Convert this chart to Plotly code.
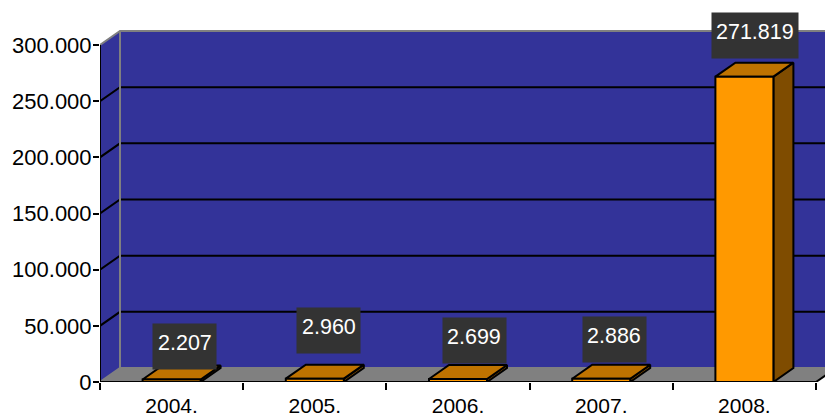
import plotly.graph_objects as go

categories = ["2004.", "2005.", "2006.", "2007.", "2008."]
values = [2207, 2960, 2699, 2886, 271819]
label_texts = ["2.207", "2.960", "2.699", "2.886", "271.819"]
y_ticks = [0, 50000, 100000, 150000, 200000, 250000, 300000]
y_tick_labels = ["0", "50.000", "100.000", "150.000", "200.000", "250.000", "300.000"]

# label box offsets from each bar's front-top centre, px
label_dx = [13, 14, 16, 13, 11]
label_dy = [34, 49, 39, 40, 42]

W, H = 825, 416
L, B = 100, 34
CAT_PX = 143.2
VAL_PX = 337 / 300000
DX = 20 / CAT_PX
DY = 14 / VAL_PX
BAR_HALF = 29 / CAT_PX
N = len(categories)
FONT = "Liberation Sans, Arial, sans-serif"

WALL = "#333399"
FLOOR = "#808080"
EDGE = "#808080"
FRONT = "#FF9900"
TOP = "#BF7300"
SIDE = "#7F4C00"

fig = go.Figure()


def poly(xs, ys, fill=None, line="black", width=2):
    fig.add_trace(go.Scatter(
        x=xs, y=ys, mode="lines", cliponaxis=False, hoverinfo="skip",
        fill="toself" if fill else None, fillcolor=fill,
        line=dict(color=line, width=width, simplify=False),
    ))


ymax = y_ticks[-1]
# back wall, side wall, floor
poly([DX, N + DX, N + DX, DX, DX], [DY, DY, ymax + DY, ymax + DY, DY], fill=WALL, line=WALL, width=0.5)
poly([0, DX, DX, 0, 0], [0, DY, ymax + DY, ymax, 0], fill=WALL, line=WALL, width=0.5)
poly([0, N, N + DX, DX, 0], [0, 0, DY, DY, 0], fill=FLOOR, line=FLOOR, width=0.5)

# gridlines
for v in y_ticks[1:-1]:
    poly([0, DX, N + DX], [v, v + DY, v + DY])

# wall edges
poly([0, DX, N + DX], [ymax, ymax + DY, ymax + DY], line=EDGE)
poly([DX, DX], [DY, ymax + DY], line=EDGE)
poly([0, DX, N + DX], [0, DY, DY], line=EDGE)
poly([N, N + DX], [0, DY])

# bars
for i, v in enumerate(values):
    x0, x1 = i + 0.5 - BAR_HALF, i + 0.5 + BAR_HALF
    poly([x1, x1 + DX, x1 + DX, x1, x1], [0, DY, v + DY, v, 0], fill=SIDE)
    poly([x0, x1, x1 + DX, x0 + DX, x0], [v, v, v + DY, v + DY, v], fill=TOP)
    poly([x0, x1, x1, x0, x0], [0, 0, v, v, 0], fill=FRONT)

# axes
poly([0, 0], [0, ymax])
poly([0, N], [0, 0])

for i, v in enumerate(values):
    # dark box behind the label
    fig.add_annotation(
        x=i + 0.5, y=v, xref="x", yref="y", text=" ", showarrow=False,
        xanchor="center", yanchor="middle", xshift=label_dx[i], yshift=label_dy[i] - 1,
        width=86 if len(label_texts[i]) > 5 else 63, height=45, bgcolor="#333333",
        borderpad=0,
    )
    # value text, sitting a little above the box centre
    fig.add_annotation(
        x=i + 0.5, y=v, xref="x", yref="y", text=label_texts[i], showarrow=False,
        xanchor="center", yanchor="middle", xshift=label_dx[i], yshift=label_dy[i] + 3,
        font=dict(family=FONT, size=21.5, color="white"),
    )

fig.update_layout(
    width=W, height=H, autosize=False, showlegend=False,
    paper_bgcolor="white", plot_bgcolor="white",
    margin=dict(l=L, r=0, t=0, b=B, pad=0, autoexpand=False),
    font=dict(family=FONT, size=21, color="black"),
    xaxis=dict(
        range=[0, (W - L) / CAT_PX], showgrid=False, zeroline=False, showline=False,
        automargin=False,
        tickmode="array", tickvals=[i + 0.5 for i in range(N)], ticktext=categories,
        tickfont=dict(family=FONT, size=21, color="black"),
        ticks="", ticklabelstandoff=9,
        minor=dict(tickmode="array", tickvals=list(range(N + 1)), ticks="outside",
                   ticklen=7, tickwidth=2, tickcolor="black", showgrid=False),
    ),
    yaxis=dict(
        range=[0, (H - B) / VAL_PX], showgrid=False, zeroline=False, showline=False,
        automargin=False,
        tickmode="array", tickvals=y_ticks, ticktext=y_tick_labels,
        tickfont=dict(family=FONT, size=22, color="black"),
        ticks="outside", ticklen=6, tickwidth=2, tickcolor="black", ticklabelstandoff=-3,
    ),
)

fig.write_html(
    "out.html",
    config={"displayModeBar": False},
    post_script="document.body.style.margin='0';document.documentElement.style.overflow='hidden';",
)
